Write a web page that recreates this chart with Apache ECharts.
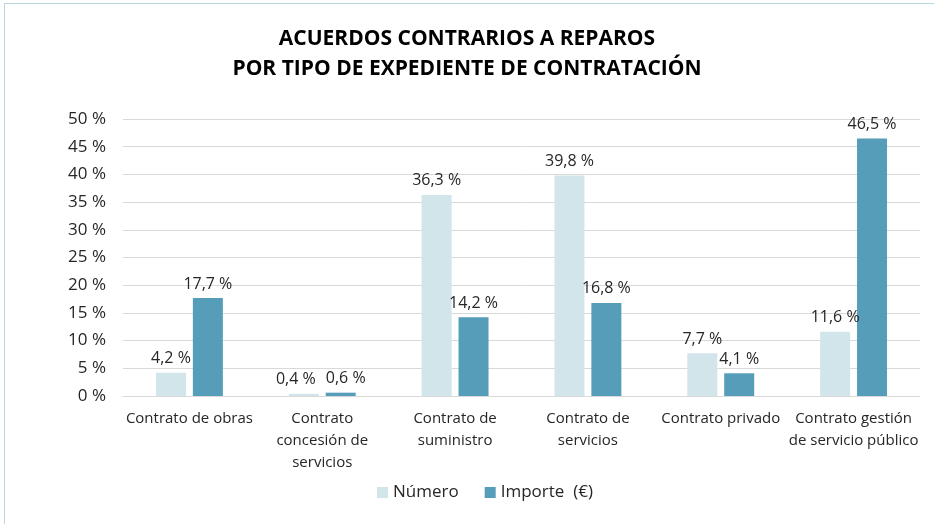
<!DOCTYPE html>
<html>
<head>
<meta charset="utf-8">
<script src="https://cdn.jsdelivr.net/npm/echarts@6/dist/echarts.min.js"></script>
<style>
  html, body { margin: 0; padding: 0; background: #fff; }
  #frame {
    position: absolute; left: 4px; top: 3px; width: 960px; height: 560px;
    border: 1px solid #b9d7e2; box-sizing: border-box;
  }
  #chart { position: absolute; left: 0; top: 0; width: 934px; height: 524px; }
</style>
</head>
<body>
<div id="frame"></div>
<div id="chart"></div>
<script>
const categories = [
  'Contrato de obras',
  'Contrato\nconcesión de\nservicios',
  'Contrato de\nsuministro',
  'Contrato de\nservicios',
  'Contrato privado',
  'Contrato gestión\nde servicio público'
]
const numero = [4.2, 0.4, 36.3, 39.8, 7.7, 11.6]
const importe = [17.7, 0.6, 14.2, 16.8, 4.1, 46.5]
const seriesNames = ['Número', 'Importe  (€)']

const fmt = v => v.toFixed(1).replace('.', ',') + ' %'
const font = '"Open Sans", sans-serif'

// push apart the two labels of a group when both bars are about the same height
const closePair = i => Math.abs(numero[i] - importe[i]) < 3

const chart = echarts.init(document.getElementById('chart'))
const labelStyle = {
  show: true,
  position: 'top',
  distance: 6,
  color: '#262626',
  fontSize: 16,
  fontFamily: font,
  formatter: p => fmt(p.value)
}
chart.setOption({
  animation: false,
  title: {
    text: 'ACUERDOS CONTRARIOS A REPAROS\nPOR TIPO DE EXPEDIENTE DE CONTRATACIÓN',
    left: 'center',
    top: 19,
    textStyle: {
      fontSize: 21,
      fontWeight: 'bold',
      color: '#000',
      fontFamily: font,
      lineHeight: 30
    }
  },
  legend: {
    bottom: 18,
    left: 372,
    itemWidth: 11,
    itemHeight: 11,
    itemGap: 26,
    icon: 'rect',
    textStyle: { fontSize: 17, color: '#262626', fontFamily: font }
  },
  grid: { left: 123, right: 14, top: 119, bottom: 128, containLabel: false },
  xAxis: {
    type: 'category',
    data: categories,
    axisTick: { show: false },
    axisLine: { lineStyle: { color: '#d9d9d9' } },
    axisLabel: {
      color: '#262626', fontSize: 15, fontFamily: font,
      margin: 12, lineHeight: 22, interval: 0
    }
  },
  yAxis: {
    type: 'value',
    min: 0,
    max: 50,
    interval: 5,
    axisLabel: {
      color: '#262626', fontSize: 17, fontFamily: font,
      margin: 17, formatter: v => v + ' %'
    },
    splitLine: { lineStyle: { color: '#d9d9d9' } }
  },
  series: [
    {
      name: seriesNames[0],
      type: 'bar',
      data: numero,
      barWidth: 30,
      barGap: '23%',
      itemStyle: { color: '#d2e5eb' },
      label: labelStyle,
      labelLayout: p => (closePair(p.dataIndex) ? { dx: -8 } : {})
    },
    {
      name: seriesNames[1],
      type: 'bar',
      data: importe,
      barWidth: 30,
      itemStyle: { color: '#559db8' },
      label: labelStyle,
      labelLayout: p => (closePair(p.dataIndex) ? { dx: 5 } : {})
    }
  ]
})
</script>
</body>
</html>
